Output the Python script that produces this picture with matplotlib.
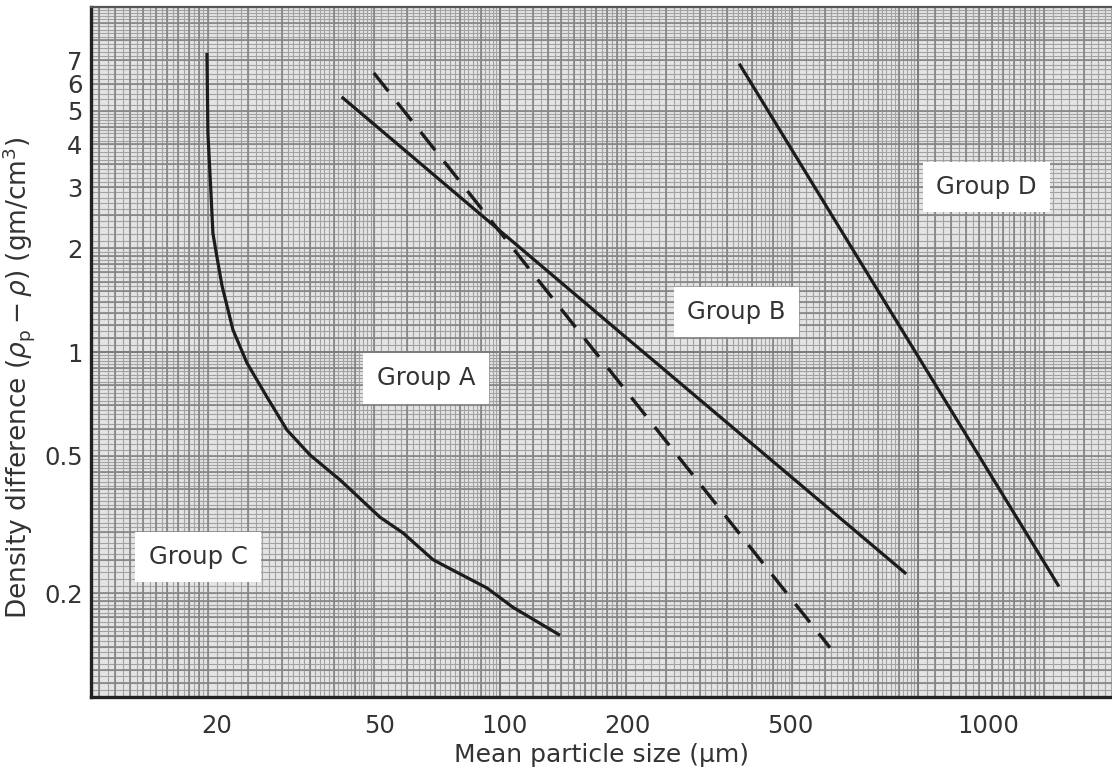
import numpy as np
import matplotlib
matplotlib.use('Agg')
import matplotlib.pyplot as plt

plt.rcParams['font.family'] = 'DejaVu Sans'
plt.rcParams['mathtext.fontset'] = 'dejavusans'

# data (size in um, density difference in gm/cm3)
ca_size = [18.91, 19.01, 19.34, 19.55, 20.0, 20.57, 21.88, 23.67, 26.5, 29.65,
           33.74, 39.94, 50.0, 56.8, 67.1, 72.5, 90.5, 104.6, 136.7]
ca_drho = [7.36, 4.31, 2.89, 2.21, 1.885, 1.56, 1.16, 0.93, 0.74, 0.594,
           0.503, 0.426, 0.332, 0.299, 0.25, 0.238, 0.207, 0.182, 0.151]
ab_size = [40.6, 192.2, 747.8]
ab_drho = [5.45, 1.14, 0.229]
ab_dash_size = [48.3, 171.5, 575.2]
ab_dash_drho = [6.44, 0.961, 0.139]
bd_size = [377.6, 747.8, 1482]
bd_drho = [6.79, 1.12, 0.211]

x_ticks = [20, 50, 100, 200, 500, 1000]
y_ticks = [0.2, 0.5, 1, 2, 3, 4, 5, 6, 7]
y_labels = ['0.2', '0.5', '1', '2', '3', '4', '5', '6', '7']
groups = ['Group A', 'Group B', 'Group C', 'Group D']

# the printed size axis is not evenly spaced: interpolate in log between tick spots
tick_spot = np.array([217, 380, 505, 627, 790, 988], dtype=float)
LK = np.r_[-1, np.log10(x_ticks), 6]
PK = np.r_[tick_spot[0] - (LK[1] + 1) * 410, tick_spot, tick_spot[-1] + 3 * 410]


def fwd(x):
    x = np.clip(np.asarray(x, dtype=float), 1e-9, None)
    return np.interp(np.log10(x), LK, PK)


def inv(p):
    return 10 ** np.interp(np.asarray(p, dtype=float), PK, LK)


def paper_vals(lo, hi, subs):
    out = []
    for d in range(int(np.floor(np.log10(lo))) - 1, int(np.ceil(np.log10(hi))) + 1):
        for s in subs:
            v = s * 10.0 ** d
            if lo <= v <= hi:
                out.append(v)
    return out


fig = plt.figure(figsize=(11.12, 7.69), dpi=100)
rect = [91 / 1112, 72 / 769, 1021 / 1112, 690 / 769]

# graph paper background
paper = fig.add_axes(rect, zorder=0)
paper.set_xscale('log')
paper.set_yscale('log')
px_lo, px_hi = 10.5, 2911
py_lo, py_hi = 0.1, 10
paper.set_xlim(px_lo, px_hi)
paper.set_ylim(py_lo, py_hi)
paper.set_facecolor('#e4e4e4')
fine = np.r_[np.arange(1, 2, 0.05), np.arange(2, 5, 0.1), np.arange(5, 10, 0.2)]
medium = np.r_[np.arange(1, 2, 0.1), np.arange(2, 5, 0.5), np.arange(5, 10, 1)]
for subs, c, w in [(fine, '#a2a2a2', 0.8), (medium, '#858585', 1.2), ([1], '#7c7c7c', 1.4)]:
    paper.vlines(paper_vals(px_lo, px_hi, subs), py_lo, py_hi, color=c, lw=w)
    paper.hlines(paper_vals(py_lo, py_hi, subs), px_lo, px_hi, color=c, lw=w)
paper.set_xticks([])
paper.set_yticks([])
paper.minorticks_off()
for s in paper.spines.values():
    s.set_visible(False)

# main chart
ax = fig.add_axes(rect, zorder=1)
ax.patch.set_visible(False)
ax.set_xscale('function', functions=(fwd, inv))
ax.set_yscale('log')
ax.set_xlim(9.86, 2006)
ax.set_ylim(0.1, 10)

lc = '#1c1c1c'
ax.plot(ca_size, ca_drho, color=lc, lw=2.3, solid_capstyle='butt')
ax.plot(ab_size, ab_drho, color=lc, lw=2.3)
ax.plot(ab_dash_size, ab_dash_drho, color=lc, lw=2.4, linestyle=(0, (7, 4.3)))
ax.plot(bd_size, bd_drho, color=lc, lw=2.3)

ax.set_xticks(x_ticks)
ax.set_xticklabels([str(t) for t in x_ticks])
ax.set_yticks(y_ticks)
ax.set_yticklabels(y_labels)
ax.minorticks_off()
ax.tick_params(axis='both', length=0, labelsize=17.5, colors='#333333')
ax.tick_params(axis='x', pad=12)
ax.tick_params(axis='y', pad=6)

ax.set_xlabel('Mean particle size (μm)', fontsize=18, color='#333333', labelpad=4)
ax.set_ylabel(r'Density difference $(\rho_\mathrm{p} - \rho)$ (gm/cm$^3$)',
              fontsize=19, color='#333333')
ax.yaxis.set_label_coords(-0.053, 0.462)

for name, pos in zip(groups, [(0.328, 0.462), (0.632, 0.558), (0.105, 0.203), (0.877, 0.739)]):
    ax.text(pos[0], pos[1], name, transform=ax.transAxes, fontsize=17.5, color='#333333',
            ha='center', va='center',
            bbox=dict(boxstyle='square,pad=0.55', fc='white', ec='none'))

ax.spines['right'].set_visible(False)
ax.spines['left'].set_linewidth(2.4)
ax.spines['bottom'].set_linewidth(2.4)
ax.spines['left'].set_color('#222222')
ax.spines['bottom'].set_color('#222222')
ax.spines['top'].set_linewidth(1.6)
ax.spines['top'].set_color('#555555')

fig.savefig('out.png', dpi=100)
